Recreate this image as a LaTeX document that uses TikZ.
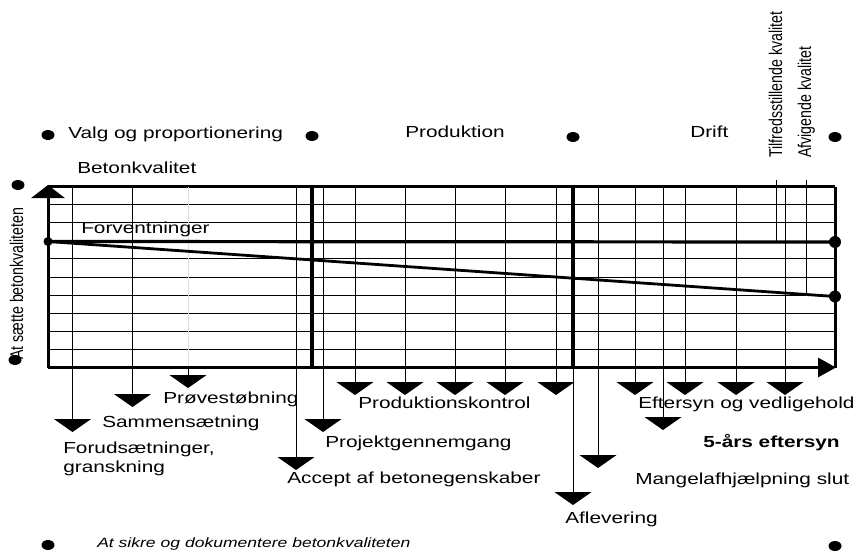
\documentclass[tikz,border=0pt]{standalone}
\usepackage{fontspec}
\usepackage{graphicx}
\setmainfont{Liberation Sans}
\usetikzlibrary{arrows.meta,shapes.geometric}
\begin{document}
\begin{tikzpicture}[x=1pt,y=-1pt,
  gridthin/.style={line width=1pt},
  gridthick/.style={line width=3.6pt},
  droparrow/.style={line width=1pt,-{Triangle[width=37pt,length=13pt]}},
  lbl/.style={anchor=base west,inner sep=0pt,xscale=1.3,font=\fontsize{16}{19}\selectfont},
  vlbl/.style={anchor=base west,inner sep=0pt,rotate=90,font=\fontsize{14.2}{17}\selectfont},
  dot/.style={ellipse,fill,inner sep=0pt,minimum width=13pt,minimum height=10pt},
  enddot/.style={circle,fill,inner sep=0pt,minimum size=12pt},
  smalldot/.style={circle,fill,inner sep=0pt,minimum size=9pt}]
\useasboundingbox (0,0) rectangle (858,551);
\fill[white] (0,0) rectangle (858,551);
% horizontal grid lines
\foreach \y in {204.6,222.7,258.9,277,295.1,313.2,331.3,349.4}
  \draw[gridthin] (48,\y) -- (835,\y);
\draw[line width=2.4pt] (48,186.5) -- (835,186.5);
% faint line
\draw[gray!25,line width=0.5pt] (188,186.5) -- (188,367.5);
% vertical lines with drop arrows
\foreach \x/\e [count=\i] in {72.5/432,132.5/407,296/470,323/432,355/395,405/395,455/395,505/395,556/395,598/468,635/395,663/430,685/395,736/395,785/395}{
  \coordinate (s\i) at (\x,186.5);
  \coordinate (e\i) at (\x,\e);
  \draw[droparrow] (s\i) -- (e\i);
}
\coordinate (p1) at (188,367.5); \coordinate (p2) at (188,388);
\draw[droparrow] (p1) -- (p2);
\coordinate (a1) at (573,367.5); \coordinate (a2) at (573,505);
\draw[droparrow] (a1) -- (a2);
% thick verticals
\draw[gridthick] (312,186.5) -- (312,367.5);
\draw[gridthick] (573,186.5) -- (573,367.5);
% marker lines
\draw[line width=0.7pt] (776,180) -- (776,242);
\draw[line width=0.7pt] (806,180) -- (806,294.5);
% axes and border
\draw[line width=3pt] (835,186.5) -- (835,367.5);
\draw[line width=3pt,-{Triangle[width=33pt,length=13pt]}] (48,367.5) -- (48,185);
\draw[line width=3pt,-{Triangle[width=19pt,length=18pt]}] (48,367.5) -- (836,367.5);
% expectation and declining lines
\node[smalldot] (l0) at (48,241.5) {};
\node[enddot] (r1) at (835,242) {};
\node[enddot] (r2) at (835,296.5) {};
\draw[line width=3.2pt] (l0.center) -- (r1.center);
\draw[line width=2.8pt] (l0.center) -- (r2.center);
% dots
\node[dot] (d1) at (48,135) {};
\node[dot] (d2) at (312,136) {};
\node[dot] (d3) at (573,137) {};
\node[dot] (d4) at (835,137) {};
\node[dot] (d5) at (18,185) {};
\node[dot] (d6) at (15,360) {};
\node[dot] (d7) at (48,545) {};
\node[dot] (d8) at (835,546) {};
% top labels
\node[lbl] (t1) at (68,138) {Valg og proportionering};
\node[lbl] (t2) at (405,137) {Produktion};
\node[lbl] (t3) at (690,137) {Drift};
\node[lbl] (t4) at (77,173) {Betonkvalitet};
\node[lbl] (t5) at (81,233) {Forventninger};
\node[vlbl] (v1) at (782,158) {\scalebox{1}[1.3]{Tilfredsstillende kvalitet}};
\node[vlbl] (v2) at (811,158) {\scalebox{1}[1.3]{Afvigende kvalitet}};
\node[vlbl] (v3) at (23,360) {\scalebox{1}[1.3]{At sætte betonkvaliteten}};
% bottom labels
\node[lbl] (b1) at (163,403) {Prøvestøbning};
\node[lbl] (b2) at (102,427) {Sammensætning};
\node[lbl] (b3) at (63,453) {Forudsætninger,};
\node[lbl] (b3b) at (63,472) {granskning};
\node[lbl] (b4) at (325,447) {Projektgennemgang};
\node[lbl] (b5) at (287,483) {Accept af betonegenskaber};
\node[lbl] (b6) at (358,408) {Produktionskontrol};
\node[lbl] (b7) at (638,408) {Eftersyn og vedligehold};
\node[lbl,font=\fontsize{16}{19}\selectfont\bfseries] (b8) at (703,447) {5-års eftersyn};
\node[lbl] (b9) at (635,484) {Mangelafhjælpning slut};
\node[lbl] (b10) at (565,523) {Aflevering};
\node[lbl,font=\fontsize{13.5}{16}\selectfont\itshape] (b11) at (97,547) {At sikre og dokumentere betonkvaliteten};
\end{tikzpicture}
\end{document}
